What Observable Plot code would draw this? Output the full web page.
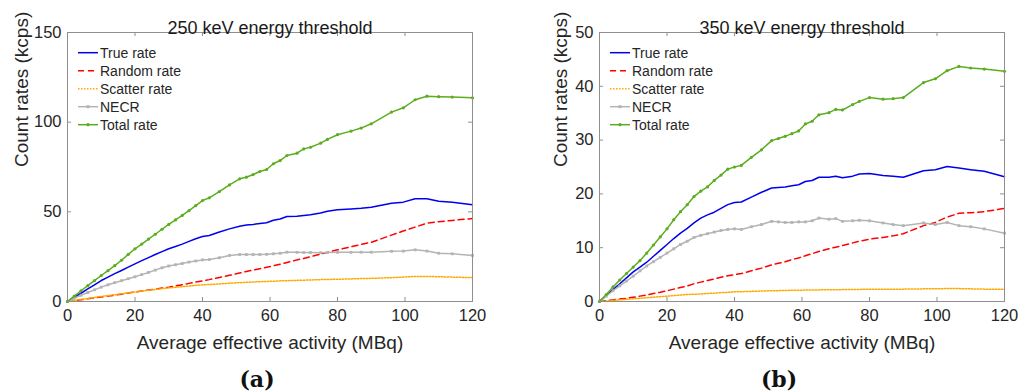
<!DOCTYPE html>
<html><head><meta charset="utf-8">
<script src="https://cdn.jsdelivr.net/npm/d3@7"></script>
<script src="https://cdn.jsdelivr.net/npm/@observablehq/plot@0.6"></script>
<style>
body{margin:0;background:#fff;}
#wrap{position:relative;width:1019px;height:392px;overflow:hidden;font-family:"Liberation Sans",Arial,sans-serif;}
.panel{position:absolute;top:0;}
.cap{position:absolute;top:366px;font-family:"DejaVu Serif",serif;font-weight:bold;font-size:22px;color:#111;transform:translateX(-50%);line-height:26px;white-space:nowrap;}
</style></head><body><div id="wrap"></div>
<script>
// Activity (MBq)
const X = [0, 2, 4, 6, 8, 10, 12, 14, 16, 18, 20, 22, 24, 26, 28, 30, 32, 34, 36, 38, 40, 42, 45, 48, 51, 53, 55, 57, 59, 61, 63, 65, 68, 70, 72, 75, 77, 80, 84, 87, 90, 96, 99.5, 103, 106.5, 110, 114, 120];

// (a) 250 keV
const trueA = [0, 2.3, 4.6, 7, 9.3, 11.7, 13.6, 15.5, 17.3, 19.2, 21, 22.8, 24.5, 26.2, 27.8, 29.4, 30.7, 32, 33.5, 35, 36.2, 36.8, 38.8, 40.5, 42, 42.6, 43, 43.5, 43.9, 45.3, 46, 47.4, 47.6, 48, 48.4, 49.3, 50.3, 51.1, 51.6, 52, 52.6, 54.8, 55.4, 57.3, 57.3, 55.9, 55.4, 53.9];
const randomA = [0, 0.5, 1, 1.5, 2, 2.5, 3, 3.5, 4.1, 4.7, 5.3, 5.8, 6.4, 6.9, 7.5, 8, 8.7, 9.4, 10.1, 10.8, 11.5, 12.2, 13.4, 14.6, 15.9, 16.7, 17.5, 18.3, 19.1, 19.9, 20.8, 21.8, 23.2, 24, 25, 26.4, 27.4, 28.8, 30.5, 31.8, 33, 37, 39.3, 41.5, 43.7, 44.5, 45.2, 46.3];
const scatterA = [0, 0.6, 1.2, 1.7, 2.3, 2.8, 3.3, 3.8, 4.3, 4.8, 5.3, 5.8, 6.3, 6.7, 7.2, 7.6, 7.9, 8.3, 8.6, 9, 9.3, 9.5, 9.8, 10.2, 10.5, 10.7, 10.9, 11, 11.2, 11.3, 11.5, 11.6, 11.8, 11.9, 12, 12.2, 12.3, 12.4, 12.6, 12.8, 12.9, 13.3, 13.6, 14, 14, 13.8, 13.6, 13.3];
const necrA = [0, 1.8, 3.5, 5, 6.5, 8, 9.3, 10.5, 11.6, 12.7, 13.8, 15, 16.2, 17.5, 18.8, 19.8, 20.5, 21.2, 22, 22.6, 23.2, 23.4, 24.4, 25.7, 26.2, 26.2, 26.2, 26.2, 26.3, 26.6, 26.9, 27.5, 27.4, 27.3, 27.3, 27.2, 27.3, 27.4, 27.4, 27.5, 27.5, 28, 28.1, 28.8, 28.1, 26.9, 26.6, 25.7];
const totalA = [0, 3, 6, 8.8, 11.6, 14.5, 17.2, 20, 23, 26.3, 29.4, 32, 34.8, 37.5, 40.3, 43, 45.5, 48, 50.7, 53.5, 56.3, 57.8, 61.3, 65, 68.4, 69.3, 70.8, 72.5, 73.6, 76.8, 78.6, 81.4, 82.7, 85.1, 86, 88.3, 90.4, 93, 95, 96.7, 99.1, 105.6, 108, 112.5, 114.5, 114.2, 114, 113.6];

// (b) 350 keV
const trueB = [0, 1.1, 2.2, 3.3, 4.4, 5.5, 6.4, 7.3, 8.4, 9.5, 10.6, 11.7, 12.7, 13.6, 14.6, 15.5, 16.1, 16.6, 17.3, 18, 18.4, 18.5, 19.4, 20.3, 21.1, 21.2, 21.3, 21.5, 21.7, 22.3, 22.5, 23.1, 23.1, 23.3, 23, 23.3, 23.7, 23.8, 23.4, 23.3, 23.1, 24.3, 24.5, 25.1, 24.8, 24.5, 24.2, 23.2];
const randomB = [0, 0.15, 0.3, 0.45, 0.6, 0.8, 1, 1.2, 1.5, 1.7, 2, 2.3, 2.6, 2.9, 3.3, 3.6, 3.9, 4.2, 4.5, 4.8, 5, 5.2, 5.7, 6.2, 6.8, 7.1, 7.4, 7.8, 8.1, 8.5, 8.9, 9.3, 9.8, 10.1, 10.4, 10.9, 11.2, 11.6, 11.9, 12.2, 12.6, 14.1, 14.7, 15.7, 16.4, 16.5, 16.7, 17.3];
const scatterB = [0, 0.1, 0.2, 0.3, 0.4, 0.5, 0.6, 0.7, 0.8, 0.9, 1, 1.1, 1.2, 1.3, 1.35, 1.4, 1.5, 1.55, 1.65, 1.7, 1.8, 1.82, 1.88, 1.95, 2, 2.02, 2.05, 2.08, 2.1, 2.12, 2.14, 2.16, 2.18, 2.2, 2.21, 2.23, 2.25, 2.27, 2.28, 2.3, 2.3, 2.35, 2.38, 2.4, 2.4, 2.35, 2.3, 2.25];
const necrB = [0, 1, 2, 2.9, 3.8, 4.7, 5.7, 6.6, 7.4, 8.2, 9, 9.8, 10.6, 11.2, 11.9, 12.3, 12.6, 12.9, 13.2, 13.4, 13.5, 13.4, 13.9, 14.3, 14.9, 14.8, 14.7, 14.7, 14.8, 14.8, 15, 15.5, 15.3, 15.4, 14.9, 15, 15.1, 15, 14.6, 14.3, 14.1, 14.6, 14.3, 14.7, 14.1, 13.9, 13.5, 12.7];
const totalB = [0, 1.3, 2.7, 4, 5.2, 6.4, 7.6, 9, 10.5, 12, 13.5, 15.2, 16.7, 18, 19.5, 20.5, 21.3, 22.5, 23.5, 24.6, 25, 25.3, 26.8, 28.2, 29.9, 30.3, 30.7, 31.2, 31.7, 33, 33.5, 34.7, 35.1, 35.7, 35.6, 36.6, 37.2, 37.9, 37.6, 37.7, 37.9, 40.7, 41.4, 42.9, 43.7, 43.4, 43.2, 42.8];

const xTicks = [0, 20, 40, 60, 80, 100, 120];
const yTicksA = [0, 50, 100, 150];
const yTicksB = [0, 10, 20, 30, 40, 50];
const seriesNames = ["True rate", "Random rate", "Scatter rate", "NECR", "Total rate"];
const titles = ["250 keV energy threshold", "350 keV energy threshold"];
const captions = ["(a)", "(b)"];
const xLabel = "Average effective activity (MBq)";
const yLabel = "Count rates (kcps)";

const styles = [
  {color: "#0000ee", dash: null, marker: null},
  {color: "#ff0000", dash: "6,4", marker: null},
  {color: "#ffaa00", dash: "1.5,1.5", marker: null},
  {color: "#b4b4b4", dash: null, marker: "square"},
  {color: "#5cad1f", dash: null, marker: "circle"}
];
const boxColor = "#8f8f8f";
const H = 392, MT = 32, MB = 91;

function panel({left, width, mL, mR, yMax, yTicks, title, ylabelDx, data}) {
  const plotH = H - MT - MB;
  const plotW = width - mL - mR;
  const marks = [
    Plot.axisX(xTicks, {tickSize: 0, tickPadding: 8, label: null}),
    Plot.axisY(yTicks, {tickSize: 0, tickPadding: 6, label: null}),
    Plot.tickX(xTicks, {x: d => d, stroke: boxColor, insetTop: plotH - 4}),
    Plot.tickX(xTicks, {x: d => d, stroke: boxColor, insetBottom: plotH - 4}),
    Plot.tickY(yTicks, {y: d => d, stroke: boxColor, insetRight: plotW - 4}),
    Plot.tickY(yTicks, {y: d => d, stroke: boxColor, insetLeft: plotW - 4})
  ];
  data.forEach((arr, k) => {
    const rows = X.map((x, i) => ({x, y: arr[i]}));
    const s = styles[k];
    marks.push(Plot.line(rows, {x: "x", y: "y", stroke: s.color, strokeWidth: 1.5, strokeDasharray: s.dash}));
    if (s.marker) marks.push(Plot.dot(rows, {x: "x", y: "y", symbol: s.marker, r: 1.6, fill: s.color, stroke: null}));
  });
  marks.push(
    Plot.frame({stroke: boxColor}),
    Plot.text([title], {frameAnchor: "top", dy: -11, fontSize: 18, fill: "#1a1a1a"}),
    Plot.text([xLabel], {frameAnchor: "bottom", dy: 47, fontSize: 19, fill: "#262626"}),
    Plot.text([yLabel], {frameAnchor: "left", dx: ylabelDx, rotate: -90, fontSize: 19, fill: "#262626"})
  );
  const chart = Plot.plot({
    width, height: H, marginTop: MT, marginBottom: MB, marginLeft: mL, marginRight: mR,
    style: {fontFamily: '"Liberation Sans", Arial, sans-serif', fontSize: "16.5px", color: "#262626", background: "transparent", overflow: "visible"},
    x: {domain: [0, 120]},
    y: {domain: [0, yMax]},
    marks
  });
  // legend
  const g = d3.select(chart).append("g")
    .attr("transform", `translate(${mL},${MT})`)
    .attr("font-size", 14).attr("fill", "#262626").attr("text-anchor", "start");
  seriesNames.forEach((name, i) => {
    const s = styles[i];
    const y = 20.7 + i * 18;
    g.append("line").attr("x1", 11).attr("x2", 31).attr("y1", y).attr("y2", y)
      .attr("stroke", s.color).attr("stroke-width", 1.5)
      .attr("stroke-dasharray", s.dash);
    if (s.marker === "circle") g.append("circle").attr("cx", 21).attr("cy", y).attr("r", 1.6).attr("fill", s.color);
    if (s.marker === "square") g.append("rect").attr("x", 19.5).attr("y", y - 1.5).attr("width", 3).attr("height", 3).attr("fill", s.color);
    g.append("text").attr("x", 33).attr("y", y).attr("dy", "0.35em").attr("text-anchor", "start").text(name);
  });
  const div = document.createElement("div");
  div.className = "panel";
  div.style.left = left + "px";
  div.appendChild(chart);
  document.getElementById("wrap").appendChild(div);
}

panel({left: 0, width: 509, mL: 67, mR: 37, yMax: 150, yTicks: yTicksA, title: titles[0], ylabelDx: -46,
  data: [trueA, randomA, scatterA, necrA, totalA]});
panel({left: 509, width: 510, mL: 90, mR: 15, yMax: 50, yTicks: yTicksB, title: titles[1], ylabelDx: -39,
  data: [trueB, randomB, scatterB, necrB, totalB]});

[[257, captions[0]], [779, captions[1]]].forEach(([cx, t]) => {
  const c = document.createElement("div");
  c.className = "cap";
  c.style.left = cx + "px";
  c.textContent = t;
  document.getElementById("wrap").appendChild(c);
});
</script></body></html>
